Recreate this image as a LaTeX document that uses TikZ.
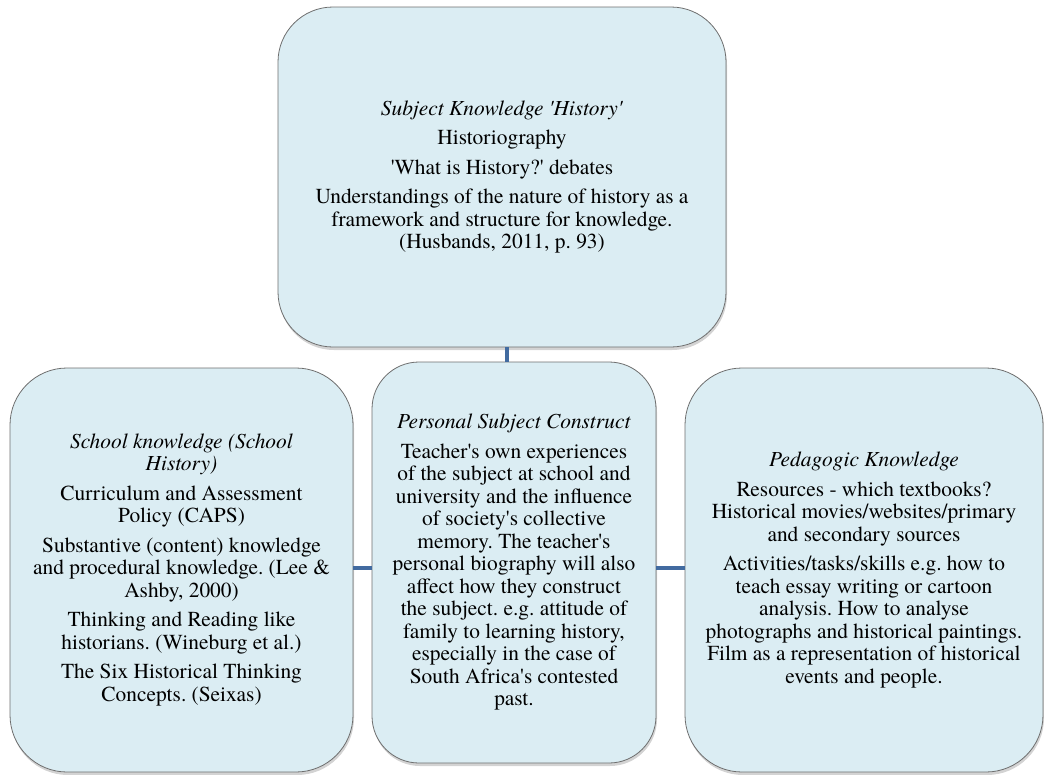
\documentclass[tikz,border=0pt]{standalone}
\usepackage{fontspec}
\setmainfont{texgyretermes}[Extension=.otf, UprightFont=*-regular, ItalicFont=*-italic,
    BoldFont=*-bold, BoldItalicFont=*-bolditalic]
\usetikzlibrary{shadows}
\definecolor{boxfill}{RGB}{219,237,243}
\definecolor{boxline}{RGB}{110,110,110}
\definecolor{linkblue}{RGB}{66,107,160}
\newcommand{\apos}{\textquotesingle}
\frenchspacing

\begin{document}
\begin{tikzpicture}[x=1pt,y=1pt,
        kbox/.style={rectangle, draw=boxline, line width=0.8pt, fill=boxfill, align=center,
            drop shadow={shadow xshift=1pt, shadow yshift=-3pt, opacity=0.35},
            font=\fontsize{21.4}{22.5}\selectfont, inner sep=0pt},
        link/.style={draw=linkblue, line width=4pt}]
        \useasboundingbox (0,0) rectangle (1044,-774);

        \node[kbox, minimum width=448, minimum height=340, rounded corners=55] (subj) at (502, -177) {
            \textit{Subject Knowledge \apos History\apos}\\[7pt]
            Historiography\\[7pt]
            \apos What is History?\apos{} debates\\[7pt]
            Understandings of the nature of history as a\\
            framework and structure for knowledge.\\
            (Husbands, 2011, p. 93) };

        \node[kbox, minimum width=343, minimum height=404, rounded corners=57] (school) at (181.5, -570) {
            \textit{School knowledge (School}\\
            \textit{History)}\\[7pt]
            Curriculum and Assessment\\
            Policy (CAPS)\\[7pt]
            Substantive (content) knowledge\\
            and procedural knowledge. (Lee \&\\
            Ashby, 2000)\\[7pt]
            Thinking and Reading like\\
            historians. (Wineburg et al.)\\[7pt]
            The Six Historical Thinking\\
            Concepts. (Seixas) };

        \node[kbox, minimum width=284, minimum height=401, rounded corners=47] (personal) at (514, -562.5) {
            \textit{Personal Subject Construct}\\[7pt]
            Teacher\apos s own experiences\\
            of the subject at school and\\
            university and the influence\\
            of society\apos s collective\\
            memory. The teacher\apos s\\
            personal biography will also\\
            affect how they construct\\
            the subject. e.g. attitude of\\
            family to learning history,\\
            especially in the case of\\
            South Africa\apos s contested\\
            past. };

        \node[kbox, minimum width=358, minimum height=404, rounded corners=57] (pedag) at (864, -570) {
            \textit{Pedagogic Knowledge}\\[7pt]
            Resources - which textbooks?\\
            Historical movies/websites/primary\\
            and secondary sources\\[7pt]
            Activities/tasks/skills e.g. how to\\
            teach essay writing or cartoon\\
            analysis. How to analyse\\
            photographs and historical paintings.\\
            Film as a representation of historical\\
            events and people. };

        \draw[link] ([xshift=5]subj.south) -- ([xshift=5]subj.south |- personal.north);
        \draw[link] ([yshift=-5]personal.west) -- ([yshift=-5]personal.west -| school.east);
        \draw[link] ([yshift=-5]personal.east) -- ([yshift=-5]personal.east -| pedag.west);

    \end{tikzpicture}
\end{document}
